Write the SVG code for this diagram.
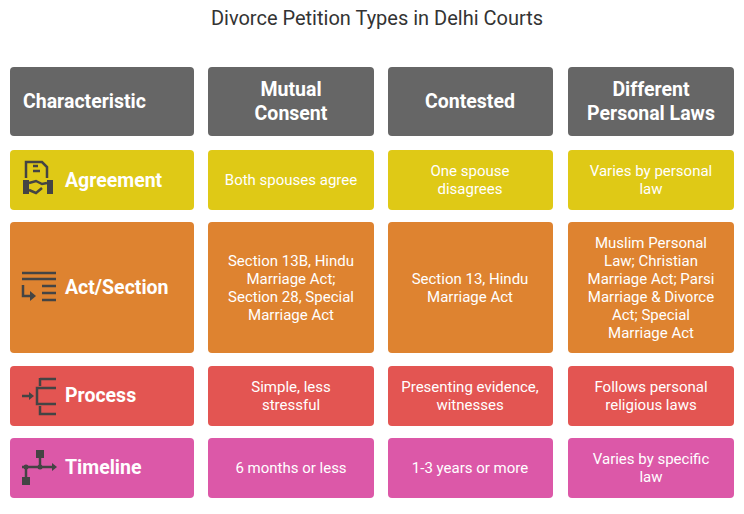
<svg xmlns="http://www.w3.org/2000/svg" width="744" height="514" viewBox="0 0 744 514">
<style>
.t{font-family:Roboto,"Liberation Sans",sans-serif;font-size:20px;fill:#333;text-anchor:middle}
.h{font-family:Roboto,"Liberation Sans",sans-serif;font-size:19.5px;font-weight:bold;fill:#fff;text-anchor:middle}
.l{font-family:Roboto,"Liberation Sans",sans-serif;font-size:19.5px;font-weight:bold;fill:#fff}
.c{font-family:Roboto,"Liberation Sans",sans-serif;font-size:15px;fill:#fff;text-anchor:middle}
.ic{fill:none;stroke:#444;stroke-width:2.5}
.if{fill:#444}
</style>
<rect width="744" height="514" fill="#fff"/>
<text class="t" x="377" y="25">Divorce Petition Types in Delhi Courts</text>
<g id="header">
<rect x="10" y="67" width="184" height="69" rx="4" fill="#666"/>
<text class="l" x="23" y="108">Characteristic</text>
<rect x="208" y="67" width="166" height="69" rx="4" fill="#666"/>
<text class="h" x="291" y="96">Mutual</text><text class="h" x="291" y="120">Consent</text>
<rect x="388" y="67" width="165" height="69" rx="4" fill="#666"/>
<text class="h" x="470" y="108">Contested</text>
<rect x="568" y="67" width="166" height="69" rx="4" fill="#666"/>
<text class="h" x="651" y="96">Different</text><text class="h" x="651" y="120">Personal Laws</text>
</g>
<g id="agreement">
<rect x="10" y="150" width="184" height="60" rx="4" fill="#dfc916"/>
<path class="ic" d="M26 178 V162 H42 L47 167 V178"/>
<path class="ic" d="M33 171 H40 M33 166 H38"/>
<rect class="if" x="23" y="180" width="6" height="14"/><rect class="if" x="47" y="180" width="6" height="14"/>
<path class="ic" d="M29 183 L36 181 L42 184 L47 183 M29 190 L36 193 L42 188"/>
<text class="l" x="65" y="187">Agreement</text>
<rect x="208" y="150" width="166" height="60" rx="4" fill="#dfc916"/>
<text class="c" x="291" y="185">Both spouses agree</text>
<rect x="388" y="150" width="165" height="60" rx="4" fill="#dfc916"/>
<text class="c" x="470" y="176">One spouse</text><text class="c" x="470" y="194">disagrees</text>
<rect x="568" y="150" width="166" height="60" rx="4" fill="#dfc916"/>
<text class="c" x="651" y="176">Varies by personal</text><text class="c" x="651" y="194">law</text>
</g>
<g id="act">
<rect x="10" y="222" width="184" height="131" rx="4" fill="#de8330"/>
<path class="ic" d="M22 273 H56 M22 279 H56 M42 286 H56 M42 293 H56 M42 300 H56 M23 285 V296 H32"/>
<path class="if" d="M30 291 L36 296 L30 301 Z"/>
<text class="l" x="65" y="294">Act/Section</text>
<rect x="208" y="222" width="166" height="131" rx="4" fill="#de8330"/>
<text class="c" x="291" y="266">Section 13B, Hindu</text><text class="c" x="291" y="284">Marriage Act;</text><text class="c" x="291" y="302">Section 28, Special</text><text class="c" x="291" y="320">Marriage Act</text>
<rect x="388" y="222" width="165" height="131" rx="4" fill="#de8330"/>
<text class="c" x="470" y="284">Section 13, Hindu</text><text class="c" x="470" y="302">Marriage Act</text>
<rect x="568" y="222" width="166" height="131" rx="4" fill="#de8330"/>
<text class="c" x="651" y="248">Muslim Personal</text><text class="c" x="651" y="266">Law; Christian</text><text class="c" x="651" y="284">Marriage Act; Parsi</text><text class="c" x="651" y="302">Marriage &amp; Divorce</text><text class="c" x="651" y="320">Act; Special</text><text class="c" x="651" y="338">Marriage Act</text>
</g>
<g id="process">
<rect x="10" y="366" width="184" height="60" rx="4" fill="#e35552"/>
<path class="ic" d="M40 379 H56 M40 378 V386 M56 388 H37 V404 H56 M40 406 V414 H56 M22 396 H30"/>
<path class="if" d="M29 392 L34 396 L29 400 Z"/>
<text class="l" x="65" y="402">Process</text>
<rect x="208" y="366" width="166" height="60" rx="4" fill="#e35552"/>
<text class="c" x="291" y="392">Simple, less</text><text class="c" x="291" y="410">stressful</text>
<rect x="388" y="366" width="165" height="60" rx="4" fill="#e35552"/>
<text class="c" x="470" y="392">Presenting evidence,</text><text class="c" x="470" y="410">witnesses</text>
<rect x="568" y="366" width="166" height="60" rx="4" fill="#e35552"/>
<text class="c" x="651" y="392">Follows personal</text><text class="c" x="651" y="410">religious laws</text>
</g>
<g id="timeline">
<rect x="10" y="438" width="184" height="60" rx="4" fill="#dc58a8"/>
<rect class="if" x="36" y="450" width="8" height="8"/><rect class="if" x="22" y="477" width="8" height="8"/>
<path class="ic" d="M22 467 H53 M40 458 V467 M26 467 V477"/>
<path class="if" d="M52 463 L57 467 L52 471 Z"/>
<circle class="if" cx="26" cy="467" r="2.5"/><circle class="if" cx="40" cy="467" r="2.5"/>
<text class="l" x="65" y="474">Timeline</text>
<rect x="208" y="438" width="166" height="60" rx="4" fill="#dc58a8"/>
<text class="c" x="291" y="473">6 months or less</text>
<rect x="388" y="438" width="165" height="60" rx="4" fill="#dc58a8"/>
<text class="c" x="470" y="473">1-3 years or more</text>
<rect x="568" y="438" width="166" height="60" rx="4" fill="#dc58a8"/>
<text class="c" x="651" y="464">Varies by specific</text><text class="c" x="651" y="482">law</text>
</g>
</svg>
